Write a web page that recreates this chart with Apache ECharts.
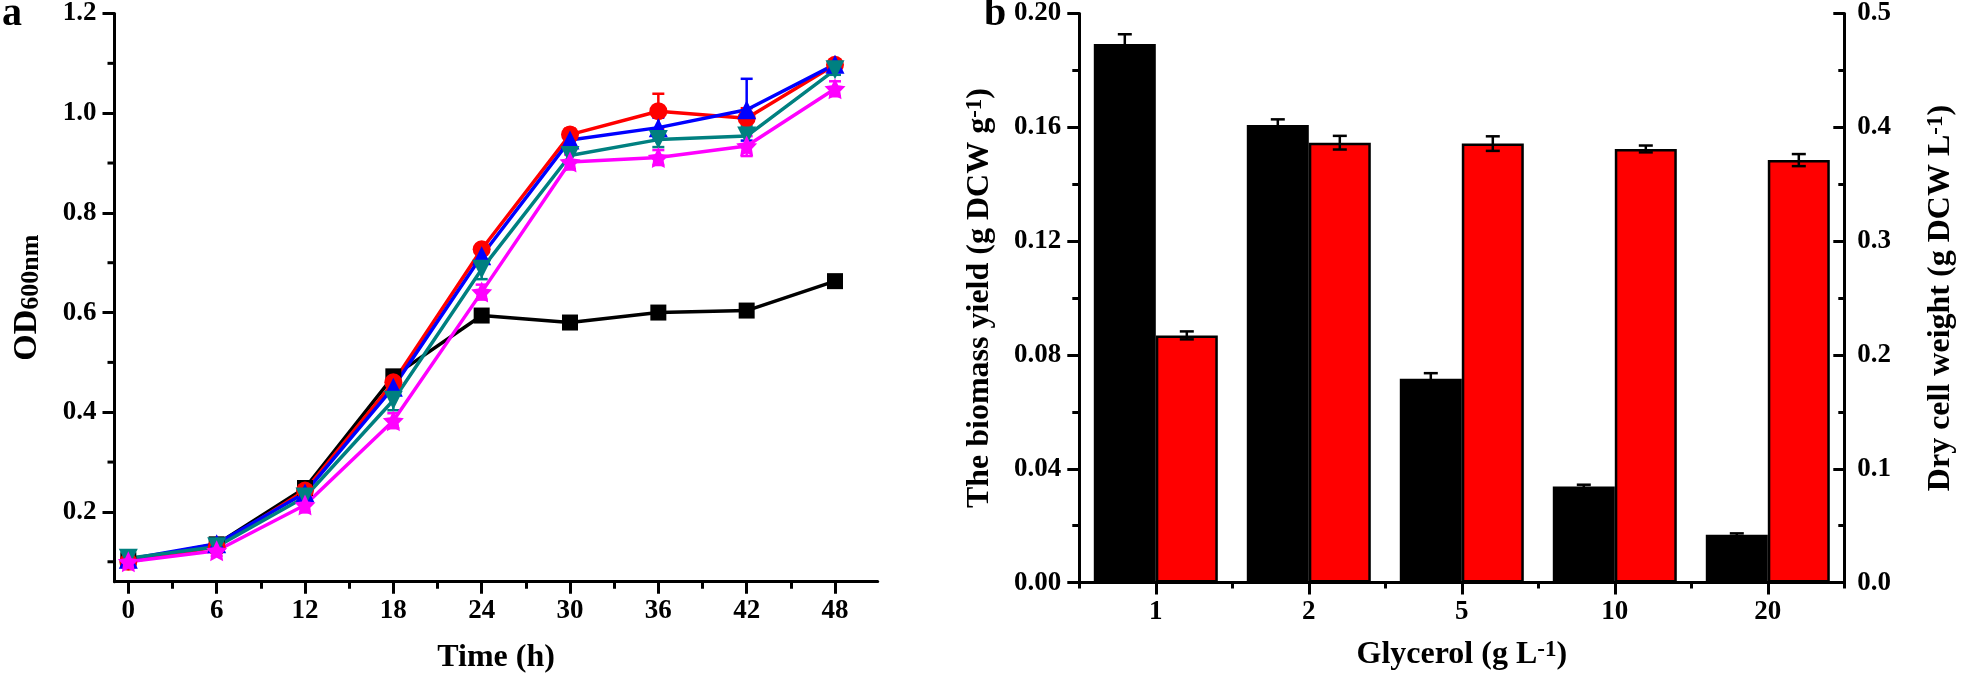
<!DOCTYPE html>
<html>
<head>
<meta charset="utf-8">
<script src="https://cdn.jsdelivr.net/npm/echarts@6/dist/echarts.min.js"></script>
<style>
html,body{margin:0;padding:0;background:#fff;}
#main{width:1961px;height:680px;}
</style>
</head>
<body>
<div id="main"></div>
<script>
// ---------- Panel a data ----------
const times = [0, 6, 12, 18, 24, 30, 36, 42, 48];
const odBlack   = [0.103, 0.135, 0.248, 0.472, 0.594, 0.580, 0.600, 0.604, 0.663];
const odRed     = [0.100, 0.130, 0.243, 0.460, 0.727, 0.957, 1.004, 0.990, 1.097];
const odBlue    = [0.105, 0.136, 0.238, 0.450, 0.714, 0.946, 0.971, 1.007, 1.098];
const odTeal    = [0.107, 0.130, 0.230, 0.424, 0.687, 0.915, 0.947, 0.954, 1.087];
const odMagenta = [0.100, 0.122, 0.214, 0.383, 0.641, 0.902, 0.911, 0.934, 1.049];
const errBlack   = [0.005, 0.005, 0.008, 0.010, 0.010, 0.008, 0.008, 0.008, 0.008];
const errRed     = [0.005, 0.005, 0.008, 0.010, 0.010, 0.012, 0.035, 0.020, 0.010];
const errBlue    = [0.005, 0.010, 0.010, 0.015, 0.010, 0.010, 0.020, 0.062, 0.010];
const errTeal    = [0.005, 0.005, 0.010, 0.020, 0.020, 0.010, 0.015, 0.020, 0.010];
const errMagenta = [0.010, 0.010, 0.015, 0.015, 0.015, 0.015, 0.015, 0.020, 0.015];
const timeTicks = [0, 6, 12, 18, 24, 30, 36, 42, 48];
const timeMinorTicks = [3, 9, 15, 21, 27, 33, 39, 45];
const odTicks = [0.2, 0.4, 0.6, 0.8, 1.0, 1.2];
const odMinorTicks = [0.1, 0.3, 0.5, 0.7, 0.9, 1.1];
const timeRange = [-0.94, 50.9];
const odRange = [0.06, 1.2];

// ---------- Panel b data ----------
const glycerol = ['1', '2', '5', '10', '20'];
const biomassYield = [0.1893, 0.1608, 0.0716, 0.0338, 0.0168];
const biomassYieldErr = [0.0034, 0.0020, 0.0020, 0.0006, 0.0005];
const dryCellWeight = [0.2172, 0.3865, 0.3857, 0.3810, 0.3712];
const dryCellWeightErr = [0.0035, 0.0060, 0.0064, 0.0030, 0.0053];

const FONT = '"Liberation Serif", "Times New Roman", serif';
const BAR_W = 62;

const axisLineStyle = { show: true, onZero: false, lineStyle: { color: '#000', width: 3 } };
const hiddenLine = { show: true, onZero: false, lineStyle: { color: 'rgba(0,0,0,0)', width: 0 } };
const tickLabel = { color: '#000', fontFamily: FONT, fontWeight: 'bold', fontSize: 27 };
const nameStyle = {
  color: '#000', fontFamily: FONT, fontWeight: 'bold', fontSize: 32,
  rich: {
    m: { fontFamily: FONT, fontWeight: 'bold', fontSize: 32, color: '#000' },
    o: { fontFamily: FONT, fontWeight: 'bold', fontSize: 34, color: '#000' },
    s: { fontFamily: FONT, fontWeight: 'bold', fontSize: 26, color: '#000', verticalAlign: 'bottom' },
    p: { fontFamily: FONT, fontWeight: 'bold', fontSize: 23, color: '#000', verticalAlign: 'top' }
  }
};

const starPath = 'path://M0,-10 L2.9,-4 L9.5,-3.1 L4.8,1.5 L5.9,8.1 L0,5 L-5.9,8.1 L-4.8,1.5 L-9.5,-3.1 L-2.9,-4 Z';

const lineDefs = [
  { name: 'black', vals: odBlack, errs: errBlack, color: '#000000', symbol: 'rect', size: 16, rotate: 0 },
  { name: 'red', vals: odRed, errs: errRed, color: '#ff0000', symbol: 'circle', size: 18, rotate: 0 },
  { name: 'blue', vals: odBlue, errs: errBlue, color: '#0000ff', symbol: 'triangle', size: 19, rotate: 0 },
  { name: 'teal', vals: odTeal, errs: errTeal, color: '#008080', symbol: 'triangle', size: 19, rotate: 180 },
  { name: 'magenta', vals: odMagenta, errs: errMagenta, color: '#ff00ff', symbol: starPath, size: 21, rotate: 0 }
];

function errRenderer(color, capHalf, offset) {
  return function (params, api) {
    const x = api.value(0), v = api.value(1), e = api.value(2);
    const top = api.coord([x, v + e]);
    const bot = api.coord([x, v - e]);
    const cx = top[0] + offset;
    const style = { stroke: color, lineWidth: 2.5 };
    return {
      type: 'group',
      children: [
        { type: 'line', shape: { x1: cx, y1: top[1], x2: cx, y2: bot[1] }, style: style },
        { type: 'line', shape: { x1: cx - capHalf, y1: top[1], x2: cx + capHalf, y2: top[1] }, style: style },
        { type: 'line', shape: { x1: cx - capHalf, y1: bot[1], x2: cx + capHalf, y2: bot[1] }, style: style }
      ]
    };
  };
}

const series = [];
// minor ticks of the OD axis, placed through the axis scale
series.push({
  type: 'custom', name: 'od-minor-ticks', xAxisIndex: 0, yAxisIndex: 0, silent: true, clip: false,
  renderItem: function (params, api) {
    const p = api.coord([api.value(0), api.value(1)]);
    return { type: 'line', shape: { x1: p[0] - 7, y1: p[1], x2: p[0], y2: p[1] }, style: { stroke: '#000', lineWidth: 3 } };
  },
  data: odMinorTicks.map(function (v) { return [timeRange[0], v]; })
});
lineDefs.forEach(function (d) {
  series.push({
    type: 'custom', name: d.name + '-err', xAxisIndex: 0, yAxisIndex: 0,
    renderItem: errRenderer(d.color, 6, 0),
    data: times.map(function (t, i) { return [t, d.vals[i], d.errs[i]]; }),
    z: 2, silent: true
  });
  series.push({
    type: 'line', name: d.name, xAxisIndex: 0, yAxisIndex: 0,
    data: times.map(function (t, i) { return [t, d.vals[i]]; }),
    symbol: d.symbol, symbolSize: d.size, symbolRotate: d.rotate,
    lineStyle: { color: d.color, width: 3.5 },
    itemStyle: { color: d.color },
    z: 3
  });
});

series.push({
  type: 'bar', name: 'yield', xAxisIndex: 2, yAxisIndex: 1,
  data: biomassYield, barWidth: BAR_W, barGap: '0%',
  itemStyle: { color: '#000000', borderColor: '#000', borderWidth: 2 }
});
series.push({
  type: 'bar', name: 'dcw', xAxisIndex: 2, yAxisIndex: 2,
  data: dryCellWeight, barWidth: BAR_W, barGap: '0%',
  itemStyle: { color: '#ff0000', borderColor: '#000', borderWidth: 2.5 }
});
series.push({
  type: 'custom', name: 'yield-err', xAxisIndex: 2, yAxisIndex: 1,
  renderItem: errRenderer('#000', 7, -BAR_W / 2),
  data: glycerol.map(function (g, i) { return [i, biomassYield[i], biomassYieldErr[i]]; }),
  z: 5, silent: true
});
series.push({
  type: 'custom', name: 'dcw-err', xAxisIndex: 2, yAxisIndex: 2,
  renderItem: errRenderer('#000', 7, BAR_W / 2),
  data: glycerol.map(function (g, i) { return [i, dryCellWeight[i], dryCellWeightErr[i]]; }),
  z: 5, silent: true
});

const option = {
  animation: false,
  backgroundColor: '#fff',
  graphic: [
    { type: 'text', left: 2, top: -5, style: { text: 'a', font: 'bold 40px "Liberation Serif"', fill: '#000' } },
    { type: 'text', left: 984, top: -5, style: { text: 'b', font: 'bold 40px "Liberation Serif"', fill: '#000' } }
  ],
  grid: [
    { left: 114.5, top: 12, right: 1083.3, bottom: 98.3 },
    { left: 1079.3, top: 12.2, right: 116.7, bottom: 97.4 }
  ],
  xAxis: [
    {
      gridIndex: 0, type: 'value', min: timeRange[0], max: timeRange[1], position: 'bottom',
      axisLine: axisLineStyle,
      axisTick: { show: true, customValues: timeTicks, length: 12, lineStyle: { color: '#000', width: 3 } },
      axisLabel: Object.assign({ customValues: timeTicks, margin: 16 }, tickLabel),
      splitLine: { show: false },
      name: 'Time (h)', nameLocation: 'middle', nameGap: 60, nameMoveOverlap: false,
      nameTextStyle: nameStyle
    },
    {
      gridIndex: 0, type: 'value', min: timeRange[0], max: timeRange[1], position: 'bottom',
      axisLine: hiddenLine,
      axisTick: { show: true, customValues: timeMinorTicks, length: 7, lineStyle: { color: '#000', width: 3 } },
      axisLabel: { show: false },
      splitLine: { show: false }
    },
    {
      gridIndex: 1, type: 'category', data: glycerol, position: 'bottom',
      axisLine: axisLineStyle,
      axisTick: { show: true, alignWithLabel: true, length: 12, lineStyle: { color: '#000', width: 3 } },
      axisLabel: Object.assign({ margin: 16 }, tickLabel),
      splitLine: { show: false },
      name: '{m|Glycerol (g L}{p|-1}{m|)}', nameLocation: 'middle', nameGap: 56, nameMoveOverlap: false,
      nameTextStyle: nameStyle
    },
    {
      gridIndex: 1, type: 'category', data: glycerol, position: 'bottom',
      axisLine: hiddenLine,
      axisTick: { show: true, alignWithLabel: false, length: 6, lineStyle: { color: '#000', width: 3 } },
      axisLabel: { show: false },
      splitLine: { show: false }
    }
  ],
  yAxis: [
    {
      gridIndex: 0, type: 'value', min: odRange[0], max: odRange[1], position: 'left',
      axisLine: axisLineStyle,
      axisTick: { show: true, customValues: odTicks, length: 12, lineStyle: { color: '#000', width: 3 } },
      axisLabel: Object.assign({ customValues: odTicks, margin: 18, formatter: function (v) { return v.toFixed(1); } }, tickLabel),
      splitLine: { show: false },
      name: '{o|OD}{s|600nm}', nameLocation: 'middle', nameGap: 70, nameMoveOverlap: false,
      nameTextStyle: nameStyle
    },
    {
      gridIndex: 1, type: 'value', min: 0, max: 0.2, interval: 0.04, position: 'left',
      axisLine: axisLineStyle,
      axisTick: { show: true, length: 12, lineStyle: { color: '#000', width: 3 } },
      minorTick: { show: true, splitNumber: 2, length: 7, lineStyle: { color: '#000', width: 3 } },
      axisLabel: Object.assign({ margin: 18, formatter: function (v) { return v.toFixed(2); } }, tickLabel),
      splitLine: { show: false },
      name: '{m|The biomass yield (g DCW g}{p|-1}{m|)}', nameLocation: 'middle', nameGap: 84, nameMoveOverlap: false,
      nameTextStyle: nameStyle
    },
    {
      gridIndex: 1, type: 'value', min: 0, max: 0.5, interval: 0.1, position: 'right',
      axisLine: axisLineStyle,
      axisTick: { show: true, inside: true, length: 11, lineStyle: { color: '#000', width: 3 } },
      minorTick: { show: true, splitNumber: 2, length: 6, lineStyle: { color: '#000', width: 3 } },
      axisLabel: Object.assign({ margin: 13, formatter: function (v) { return v.toFixed(1); } }, tickLabel),
      splitLine: { show: false },
      name: '{m|Dry cell weight (g DCW L}{p|-1}{m|)}', nameLocation: 'middle', nameGap: 80, nameMoveOverlap: false,
      nameTextStyle: nameStyle
    }
  ],
  series: series
};

const chart = echarts.init(document.getElementById('main'), null, { renderer: 'canvas' });
chart.setOption(option);
</script>
</body>
</html>
